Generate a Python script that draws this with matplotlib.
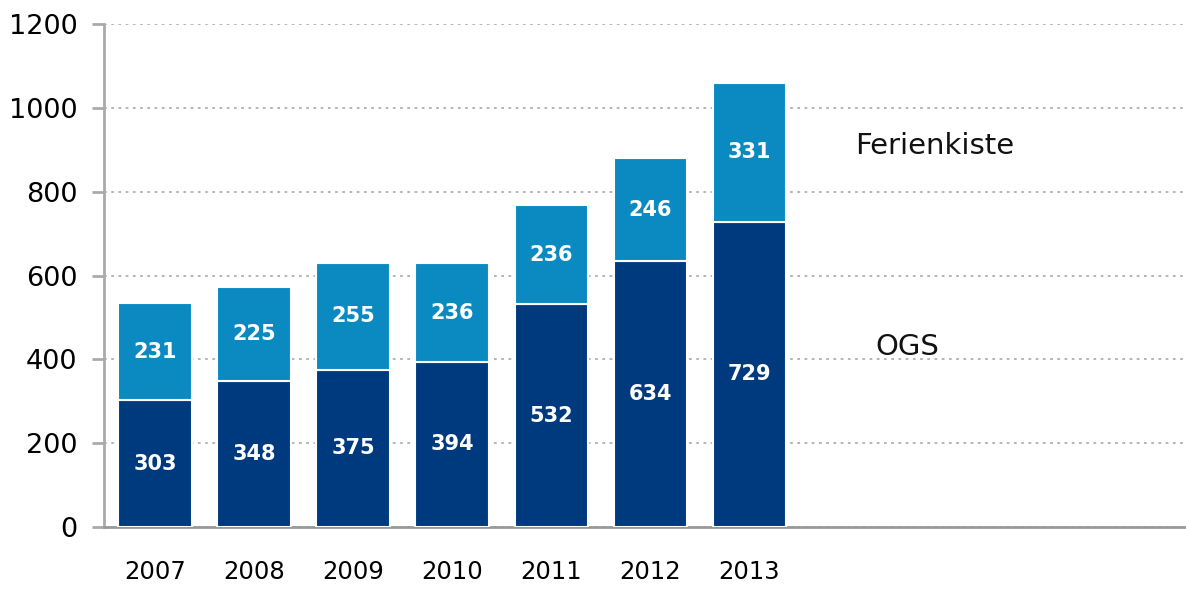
import numpy as np
import matplotlib.pyplot as plt

# Data
years = ['2007', '2008', '2009', '2010', '2011', '2012', '2013']
ogs = [303, 348, 375, 394, 532, 634, 729]
ferienkiste = [231, 225, 255, 236, 236, 246, 331]

dark = '#003a7e'
light = '#0b8ac2'

fig = plt.figure(figsize=(11.86, 5.9), dpi=100)
ax = fig.add_axes([0.0877, 0.1068, 0.9123, 0.852])

x = np.arange(len(years))
w = 0.74
ax.bar(x, ogs, width=w, color=dark, edgecolor='white', linewidth=1.5, zorder=3)
ax.bar(x, ferienkiste, width=w, bottom=ogs, color=light, edgecolor='white', linewidth=1.5, zorder=3)

for i in range(len(years)):
    ax.text(x[i], ogs[i] / 2, str(ogs[i]), ha='center', va='center',
            color='white', fontsize=15, fontweight='bold', zorder=4)
    ax.text(x[i], ogs[i] + ferienkiste[i] / 2, str(ferienkiste[i]), ha='center', va='center',
            color='white', fontsize=15, fontweight='bold', zorder=4)

# series labels on the right
ax.text(7.07, 910, 'Ferienkiste', fontsize=21, va='center', ha='left', color='#111111')
ax.text(7.27, 430, 'OGS', fontsize=21, va='center', ha='left', color='#111111')

ax.set_xlim(-0.515, 10.41)
ax.set_ylim(0, 1200)
ax.set_yticks(range(0, 1201, 200))
ax.set_xticks(x)
ax.set_xticklabels(years)

ax.yaxis.grid(True, linestyle=(0, (1.5, 2.5)), color='#b0b0b0', linewidth=1.3, zorder=0)
ax.tick_params(axis='y', length=9, width=2, color='#aaaaaa', labelsize=19.5, pad=10)
ax.tick_params(axis='x', length=0, labelsize=17.5, pad=24)

for s in ['top', 'right']:
    ax.spines[s].set_visible(False)
ax.spines['left'].set_color('#aaaaaa')
ax.spines['left'].set_linewidth(2)
ax.spines['bottom'].set_color('#999999')
ax.spines['bottom'].set_linewidth(2)

plt.savefig('out.png', dpi=100)
